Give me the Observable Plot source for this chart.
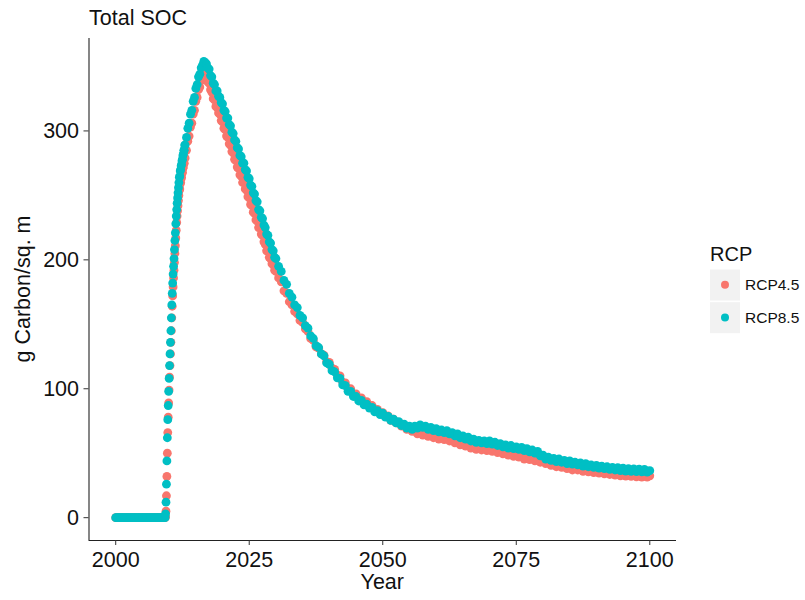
<!DOCTYPE html>
<html><head><meta charset="utf-8">
<script src="https://cdn.jsdelivr.net/npm/d3@7"></script>
<script src="https://cdn.jsdelivr.net/npm/@observablehq/plot@0.6"></script>
<style>
html,body{margin:0;padding:0;background:#fff;}
#chart{width:805px;height:600px;}
</style></head><body><div id="chart"></div>
<script>
// ---------- data ----------
const chartTitle = "Total SOC";
const xTitle = "Year";
const yTitle = "g Carbon/sq. m";
const legendTitle = "RCP";
const seriesNames = ["RCP4.5", "RCP8.5"];
const seriesColors = ["#F8766D", "#00BFC4"];
const xTicks = [2000, 2025, 2050, 2075, 2100];
const yTicks = [0, 100, 200, 300];

// time grid: segment start year, step (years), number of samples
const segStart = [2000, 2009 + 4/12, 2013.25, 2030.5];
const segStep  = [0.25, 1/12, 0.25, 0.5];
const segCount = [38, 45, 68, 140];

const rcp45 = [
  // 2000.00 - 2009.25 (quarterly)
  0,0,0,0,0,0,0,0,0,0,0,0,0,0,0,0,0,0,0,0,0,0,0,0,0,0,0,0,0,0,0,0,0,0,0,0,0,0,
  // 2009.33 - 2013.00 (monthly)
  1,5,17,32,50, 66,78,89,99,109, 118,127,136,145,155, 164,172,179,186,192,
  198,205,211,217,223, 229,234,238,242,246, 250,254,255,259,260, 263,264,267,268,271,
  272,275,275,279,279,
  // 2013.25 - 2030.00 (quarterly)
  285,292,296,
  303,306,313,316, 323,326,332,334, 339,341,344,343, 342,338,337,332,
  330,325,324,319, 318,314,313,308, 307,302,301,296, 295,290,289,284,
  283,278,277,272, 271,266,265,260, 260,255,254,249, 248,243,242,237,
  236,231,230,225, 225,220,219,214, 212,207,207,202, 201,197,196,192,
  191,
  // 2030.5 - 2100.0 (half-yearly)
  186,
  183,176, 174,167.5, 165,160, 158,153, 151.5,146.5,
  144.5,139, 137.5,132.5, 131.5,127, 126,121, 120.5,116,
  115,110.5, 110,105, 104.5,100, 100,96, 96,92.5,
  93,89.5, 90,87, 87,84, 84,81, 81.5,78.5,
  79,75.5, 76.5,73.5, 74,71, 71.5,68.5, 69.5,67,
  67.5,65, 66.5,64, 65.5,63, 64.5,62, 63.5,61,
  62.5,60.5, 62,59.5, 60.5,58, 59.5,56.5, 58,55.5,
  57,54, 55.5,53, 54.5,52.5, 54,52, 53.5,51.5,
  53,50.5, 52,49.5, 51,48.5, 50,47.5, 49.5,47,
  48.5,45.5, 47.5,45, 46.5,44, 45.5,43, 44.5,42,
  43,40.5, 42,39.5, 41,39, 40.5,38, 39.5,37,
  39,37, 38.5,36, 38,35.5, 37,35, 36.5,34.5,
  36,34, 35.5,33.5, 35,33, 34.8,32.5, 34.5,32.2,
  34,32, 33.8,31.7, 33.6,31.5, 33.5,31.4,
  32.5
];

const rcp85 = [
  // 2000.00 - 2009.25 (quarterly)
  0,0,0,0,0,0,0,0,0,0,0,0,0,0,0,0,0,0,0,0,0,0,0,0,0,0,0,0,0,0,0,0,0,0,0,0,0,0,
  // 2009.33 - 2013.00 (monthly)
  3,12,26,44,62, 76,87,98,108,118, 127,136,145,155,165, 174,182,189,195,201,
  208,215,221,228,234, 239,244,248,252,256, 260,264,265,269,270, 273,274,277,278,281,
  282,285,285,289,289,
  // 2013.25 - 2030.00 (quarterly)
  295,302,306,
  313,316,323,326, 333,336,342,344, 349,351,354,353, 352,349,348,343,
  342,337,336,331, 331,327,326,322, 321,316,315,310, 310,305,304,299,
  298,293,292,287, 286,281,280,275, 275,270,269,264, 263,258,257,252,
  251,246,245,239, 238,233,232,227, 225,220,219,214, 213,208,207,202,
  201,
  // 2030.5 - 2100.0 (half-yearly)
  195,
  191,184, 181,174, 171,165, 163,157, 155,149,
  147,141, 139,133.5, 132,127, 125.5,120, 119,114,
  113,108.5, 108,103, 102.5,98, 98,94, 94,90.5,
  91,87.5, 88,85, 85.5,82, 83,80, 81,78,
  78.5,75.5, 76.5,73.5, 74.5,71.5, 72.5,69.5, 71,68.5,
  71,69.5, 72,70, 71,68.5, 70,67.5, 69,66.5,
  68,66, 67.5,65, 66,63.5, 65,62, 63.5,61,
  62.5,59.5, 61,58.5, 60,58, 59.5,57.5, 59.5,57,
  58.5,56, 57.5,55, 56.5,54, 56,53.5, 55,53,
  54.5,52, 53.5,51, 52.5,50, 51.5,48, 48.5,45.5,
  47,44.5, 46,43.5, 45.5,43, 44.5,42, 44,41.5,
  43,41, 42.5,40, 42,39.5, 41,39, 40.5,38.5,
  40,38, 39.5,37.5, 39,37, 38.8,36.5, 38.5,36.2,
  38,36, 37.8,35.7, 37.6,35.5, 37.5,35.4,
  36.5
];

// ---------- build table ----------
const years = [];
segStart.forEach((s, k) => { for (let i = 0; i < segCount[k]; i++) years.push(s + i * segStep[k]); });
const seriesValues = [rcp45, rcp85];
const data = [];
seriesNames.forEach((name, k) => {
  const vals = seriesValues[k];
  const n = Math.min(vals.length, years.length);
  for (let i = 0; i < n; i++) data.push({year: years[i], value: vals[i], series: name});
});

// ---------- plot ----------
const FONT = '"Liberation Sans", Arial, Helvetica, sans-serif';
const xDomain = [1995, 2105];
const yDomain = [-17.7, 371.7];

const plot = Plot.plot({
  width: 805,
  height: 600,
  marginLeft: 88.5,
  marginRight: 129,
  marginTop: 38,
  marginBottom: 60,
  style: {fontFamily: FONT, fontSize: "21.5px", background: "#fff", color: "#111", overflow: "visible"},
  x: {domain: xDomain, label: null},
  y: {domain: yDomain, label: null},
  color: {domain: seriesNames, range: seriesColors},
  marks: [
    Plot.dot(data, {x: "year", y: "value", fill: "series", r: 4.4}),
    Plot.ruleX([xDomain[0]], {stroke: "#222", strokeWidth: 1.1}),
    Plot.ruleY([yDomain[0]], {stroke: "#222", strokeWidth: 1.1}),
    Plot.axisX({ticks: xTicks, tickFormat: d => String(d), tickSize: 5, tickPadding: 6, fontSize: 21.5, stroke: "#333", fill: "#111", label: null}),
    Plot.axisY({ticks: yTicks, tickSize: 5, tickPadding: 5, fontSize: 21.5, stroke: "#333", fill: "#111", label: null})
  ]
});
document.getElementById("chart").appendChild(plot);

// ---------- titles & legend ----------
const svg = d3.select(plot);
const g = svg.append("g").attr("font-family", FONT).attr("fill", "#111").attr("text-anchor", "start");
g.append("text").attr("x", 89).attr("y", 25).attr("font-size", 21.5).attr("text-anchor", "start").text(chartTitle);
g.append("text").attr("x", (88.5 + 676) / 2).attr("y", 589).attr("font-size", 21.5)
  .attr("text-anchor", "middle").text(xTitle);
g.append("text").attr("transform", `translate(29.5,${(38 + 540) / 2}) rotate(-90)`)
  .attr("font-size", 21.5).attr("text-anchor", "middle").text(yTitle);

const color = plot.scale("color");
const lg = g.append("g").attr("text-anchor", "start");
lg.append("text").attr("x", 710).attr("y", 260.7).attr("font-size", 20).attr("text-anchor", "start").text(legendTitle);
seriesNames.forEach((name, i) => {
  const top = 269.5 + i * 32.7;
  lg.append("rect").attr("x", 710).attr("y", top).attr("width", 30).attr("height", 31).attr("fill", "#F2F2F2");
  lg.append("circle").attr("cx", 725).attr("cy", top + 15.3).attr("r", 4).attr("fill", color.apply(name));
  lg.append("text").attr("x", 745).attr("y", top + 20.7).attr("font-size", 15.5).attr("text-anchor", "start").text(name);
});
</script>
</body></html>
